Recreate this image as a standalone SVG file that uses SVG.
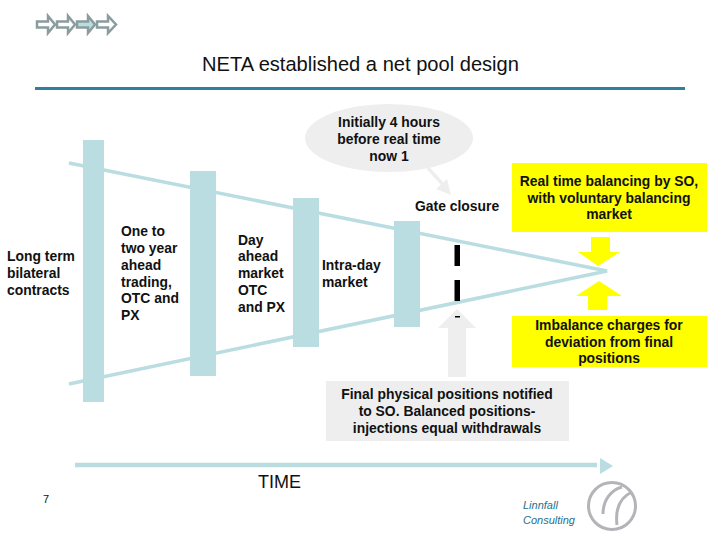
<svg xmlns="http://www.w3.org/2000/svg" width="720" height="540" viewBox="0 0 720 540">
<style>
text{font-family:"Liberation Sans",Arial,sans-serif;font-size:13.9px;font-weight:bold;fill:#111}
.m{text-anchor:middle}
.bar{fill:#b9dde1}
.ln{stroke:#b9dde1;stroke-width:3.5;fill:none}
.crumb{stroke:#8a9c9e;stroke-width:2.5;fill:#fff}
.y{fill:#ffff00}
.reg{font-weight:normal;font-size:18px}
</style>
<g id="breadcrumb">
<path class="crumb" d="M37 21.5H48V16L55 24.5L48 33V27.5H37Z"/>
<path class="crumb" d="M57 21.5H68V16L75 24.5L68 33V27.5H57Z"/>
<path class="crumb" d="M77 21.5H88V16L95 24.5L88 33V27.5H77Z" style="fill:#b9dde1"/>
<path class="crumb" d="M97 21.5H108V16L116 24.5L108 33V27.5H97Z"/>
</g>
<g id="title">
<text class="m reg" x="360.500" y="71" style="font-size:20.1px">NETA established a net pool design</text>
<rect x="35" y="87" width="650" height="3" fill="#2f7f9f"/>
</g>
<g id="connectors">
<path class="ln" d="M69 163L607 271L69 384"/>
<path d="M428 168L448 190" stroke="#eeeeee" stroke-width="3.5" fill="none"/>
<path d="M451 195L436 189L447 179Z" fill="#eeeeee"/>
<path d="M448 377V328H438L457 309L476 328H466V377Z" fill="#eeeeee"/>
<rect x="454.500" y="245" width="5.500" height="21" fill="#000"/>
<rect x="454.500" y="280" width="5.500" height="21" fill="#000"/>
<rect x="455" y="316" width="5" height="1.500" fill="#000"/>
<path d="M75 465H597" stroke="#b9dde1" stroke-width="4.500" fill="none"/>
<path d="M600 458L613 466L600 474Z" fill="#b9dde1"/>
</g>
<g id="bars">
<rect class="bar" x="83" y="140" width="21" height="262"/>
<rect class="bar" x="190" y="171" width="26" height="205"/>
<rect class="bar" x="293" y="198" width="26" height="149"/>
<rect class="bar" x="394" y="221" width="26" height="106"/>
</g>
<g id="initially">
<ellipse cx="389" cy="138" rx="84" ry="34" fill="#eeeeee"/>
<text class="m" x="389" y="127">Initially 4 hours</text>
<text class="m" x="389" y="144">before real time</text>
<text class="m" x="389" y="161">now 1</text>
</g>
<g id="gate-closure"><text x="415" y="211">Gate closure</text></g>
<g id="long-term">
<text x="7" y="261">Long term</text>
<text x="7" y="278">bilateral</text>
<text x="7" y="295">contracts</text>
</g>
<g id="one-to-two">
<text x="121" y="236">One to</text>
<text x="121" y="253">two year</text>
<text x="121" y="270">ahead</text>
<text x="121" y="287">trading,</text>
<text x="121" y="303">OTC and</text>
<text x="121" y="320">PX</text>
</g>
<g id="day-ahead">
<text x="238" y="245">Day</text>
<text x="238" y="261">ahead</text>
<text x="238" y="278">market</text>
<text x="238" y="295">OTC</text>
<text x="238" y="312">and PX</text>
</g>
<g id="intra-day">
<text x="322" y="270">Intra-day</text>
<text x="322" y="287">market</text>
</g>
<g id="real-time">
<rect class="y" x="512" y="163" width="195" height="69"/>
<text class="m" x="609" y="186">Real time balancing by SO,</text>
<text class="m" x="609" y="203">with voluntary balancing</text>
<text class="m" x="609" y="219">market</text>
<path class="y" d="M591 237H610V252H620L598 266L578 252H591Z"/>
</g>
<g id="imbalance">
<rect class="y" x="512" y="316" width="195" height="51"/>
<text class="m" x="609" y="330">Imbalance charges for</text>
<text class="m" x="609" y="347">deviation from final</text>
<text class="m" x="609" y="363">positions</text>
<path class="y" d="M588 310V296H576L599 281L622 296H607V310Z"/>
</g>
<g id="final-positions">
<rect x="326" y="381" width="243" height="60" fill="#eeeeee"/>
<text class="m" x="447" y="399">Final physical positions notified</text>
<text class="m" x="447" y="416">to SO. Balanced positions-</text>
<text class="m" x="447" y="433">injections equal withdrawals</text>
</g>
<g id="time"><text class="reg" x="258" y="488">TIME</text></g>
<g id="page"><text x="43" y="503" style="font-weight:normal;font-size:11px">7</text></g>
<g id="logo">
<text x="523" y="509" style="font-weight:normal;font-style:italic;font-size:11px;fill:#1f6f8f">Linnfall</text>
<text x="523" y="524" style="font-weight:normal;font-style:italic;font-size:11px;fill:#1f6f8f">Consulting</text>
<circle cx="612" cy="506" r="23.500" fill="none" stroke="#b4b4b8" stroke-width="3"/>
<path d="M603 514C603 500 611 490 622 487M617 525C615 508 621 497 632 492" fill="none" stroke="#b4b4b8" stroke-width="3"/>
</g>
</svg>
